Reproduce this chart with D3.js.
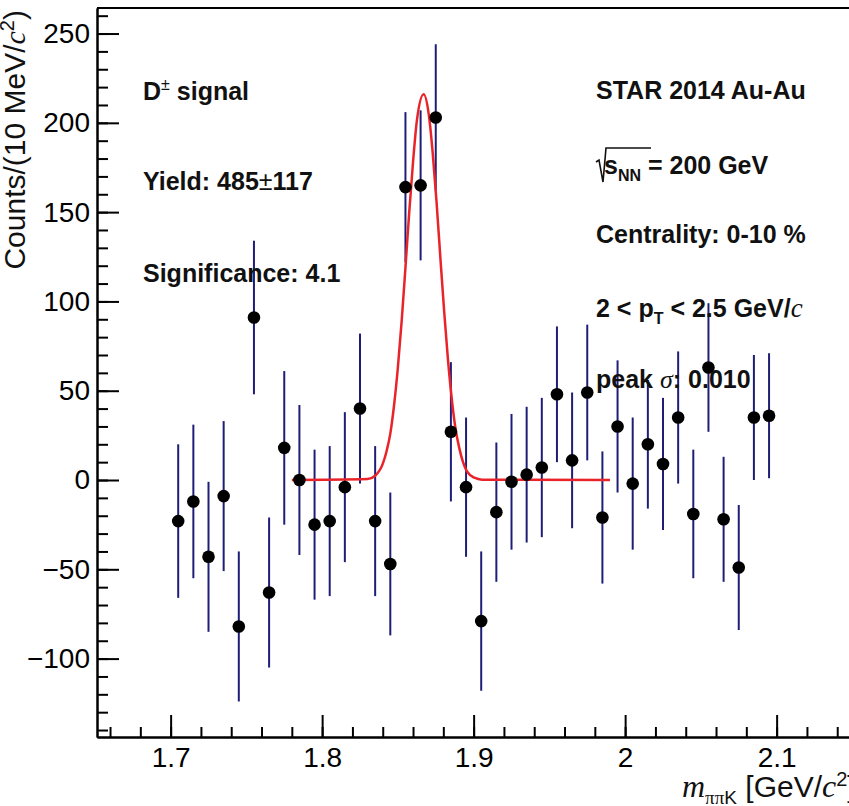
<!DOCTYPE html>
<html lang="en">
<head>
<meta charset="utf-8">
<title>D± signal</title>
<script src="https://d3js.org/d3.v7.min.js"></script>
<style>
    body { margin: 0; background: #fff; }
    svg { display: block; }
    .axis path, .axis line { stroke: #000; stroke-width: 2; fill: none; }
    .axis text { font-family: "Liberation Sans", Arial, sans-serif; font-size: 28px; fill: #000; }
    .note { font-family: "Liberation Sans", Arial, sans-serif; font-size: 25px; font-weight: bold; fill: #111; }
    .title { font-family: "Liberation Sans", Arial, sans-serif; font-size: 30px; fill: #111; }
    .it { font-family: "Liberation Serif", "Times New Roman", serif; font-style: italic; font-weight: normal; }
</style>
</head>
<body>
<script>
// histogram bins (bin centres, GeV/c^2)
var massBins = [1.705, 1.715, 1.725, 1.735, 1.745, 1.755, 1.765, 1.775, 1.785, 1.795,
                1.805, 1.815, 1.825, 1.835, 1.845, 1.855, 1.865, 1.875, 1.885, 1.895,
                1.905, 1.915, 1.925, 1.935, 1.945, 1.955, 1.965, 1.975, 1.985, 1.995,
                2.005, 2.015, 2.025, 2.035, 2.045, 2.055, 2.065, 2.075, 2.085, 2.095];
// counts per 10 MeV
var counts = [-23, -12, -43, -9, -82, 91, -63, 18, 0, -25,
              -23, -4, 40, -23, -47, 164, 165, 203, 27, -4,
              -79, -18, -1, 3, 7, 48, 11, 49, -21, 30,
              -2, 20, 9, 35, -19, 63, -22, -49, 35, 36];
// statistical errors
var errors = [43, 43, 42, 42, 42, 43, 42, 43, 42, 42,
              42, 42, 42, 42, 40, 42, 42, 41, 39, 39,
              39, 39, 38, 38, 39, 38, 38, 38, 37, 37,
              37, 36, 37, 37, 36, 36, 35, 35, 35, 35];

// fit curve
var fitMass = [1.78, 1.83, 1.835, 1.84, 1.8425, 1.845, 1.8475, 1.85, 1.8525, 1.855, 1.8575,
               1.86, 1.8625, 1.867, 1.8705, 1.873, 1.8755, 1.878, 1.8805, 1.883, 1.8855,
               1.888, 1.8905, 1.893, 1.8955, 1.9005, 1.9055, 1.99];
var fitCounts = [0, 0.5, 2.4, 9, 16, 26, 42, 63, 89, 119, 150,
                 178, 201, 216, 204, 183, 156, 125, 95, 68, 46,
                 29, 18, 10, 5, 1.3, 0.2, 0];

var xMajorTicks = [1.7, 1.8, 1.9, 2.0, 2.1];
var yMajorTicks = [-100, -50, 0, 50, 100, 150, 200, 250];

var W = 849, H = 806;
var plot = { left: 97, top: 8, bottom: 737 };

var svg = d3.select("body").append("svg")
    .attr("width", W)
    .attr("height", H);

// scales (the frame runs off the right edge of the picture)
var x = d3.scaleLinear()
    .domain([1.6514, 2.17])
    .range([plot.left, plot.left + (2.17 - 1.6514) * 1515]);
var y = d3.scaleLinear()
    .domain([-143.9, 264.3])
    .range([plot.bottom, plot.top]);

// top frame line
svg.append("line")
    .attr("x1", plot.left).attr("x2", W + 10)
    .attr("y1", plot.top).attr("y2", plot.top)
    .attr("stroke", "#000").attr("stroke-width", 2);

// minor ticks
svg.append("g")
    .attr("class", "axis")
    .attr("transform", "translate(" + plot.left + ",0)")
    .call(d3.axisLeft(y).tickValues(d3.range(-140, 261, 10)).tickSize(-11).tickSizeOuter(0).tickFormat(""));
svg.append("g")
    .attr("class", "axis")
    .attr("transform", "translate(0," + plot.bottom + ")")
    .call(d3.axisBottom(x).tickValues(d3.range(1.66, 2.17, 0.02)).tickSize(-10).tickSizeOuter(0).tickFormat(""));

// major ticks + labels
svg.append("g")
    .attr("class", "axis")
    .attr("transform", "translate(" + plot.left + ",0)")
    .call(d3.axisLeft(y).tickValues(yMajorTicks).tickSize(-22).tickSizeOuter(0).tickPadding(7));
svg.append("g")
    .attr("class", "axis")
    .attr("transform", "translate(0," + plot.bottom + ")")
    .call(d3.axisBottom(x).tickValues(xMajorTicks).tickSize(-22).tickSizeOuter(0).tickPadding(10)
        .tickFormat(d3.format("")));

// error bars
svg.append("g").selectAll("line")
    .data(massBins)
    .enter()
    .append("line")
    .attr("x1", function (d) { return x(d); })
    .attr("x2", function (d) { return x(d); })
    .attr("y1", function (d, i) { return y(counts[i] + errors[i]); })
    .attr("y2", function (d, i) { return y(counts[i] - errors[i]); })
    .attr("stroke", "#1e1e78")
    .attr("stroke-width", 2);

// fit
var line = d3.line()
    .x(function (d, i) { return x(d); })
    .y(function (d, i) { return y(fitCounts[i]); })
    .curve(d3.curveMonotoneX);
svg.append("path")
    .attr("d", line(fitMass))
    .attr("fill", "none")
    .attr("stroke", "#e8242a")
    .attr("stroke-width", 2.5);

// markers
svg.append("g").selectAll("circle")
    .data(massBins)
    .enter()
    .append("circle")
    .attr("cx", function (d) { return x(d); })
    .attr("cy", function (d, i) { return y(counts[i]); })
    .attr("r", 6.3)
    .attr("fill", "#000");

// y title
var yt = svg.append("text")
    .attr("class", "title")
    .attr("transform", "translate(25," + (plot.top + 2) + ") rotate(-90)")
    .attr("text-anchor", "end");
yt.append("tspan").text("Counts/(10 MeV/");
yt.append("tspan").attr("class", "it").text("c");
yt.append("tspan").attr("dy", -11).attr("font-size", 20).text("2");
yt.append("tspan").attr("dy", 11).text(")");

// x title
var xt = svg.append("text")
    .attr("class", "title")
    .attr("x", 682).attr("y", 797);
xt.append("tspan").attr("class", "it").attr("font-size", 32).text("m");
xt.append("tspan").attr("dy", 7).attr("font-size", 19)
    .attr("font-family", "Liberation Serif, serif").text("ππ");
xt.append("tspan").attr("font-size", 19).text("K");
xt.append("tspan").attr("dy", -7).text(" [GeV/");
xt.append("tspan").attr("class", "it").attr("font-size", 32).text("c");
xt.append("tspan").attr("dy", -11).attr("font-size", 20).text("2");
xt.append("tspan").attr("dy", 11).text("]");

// left notes
var t1 = svg.append("text").attr("class", "note").attr("x", 143).attr("y", 100);
t1.append("tspan").text("D");
t1.append("tspan").attr("dy", -10).attr("font-size", 16).attr("font-weight", "normal").text("±");
t1.append("tspan").attr("dy", 10).text(" signal");

var t2 = svg.append("text").attr("class", "note").attr("x", 143).attr("y", 190);
t2.append("tspan").text("Yield: 485");
t2.append("tspan").attr("font-weight", "normal").text("±");
t2.append("tspan").text("117");

svg.append("text").attr("class", "note").attr("x", 143).attr("y", 282).text("Significance: 4.1");

// right notes
svg.append("text").attr("class", "note").attr("x", 596).attr("y", 99).text("STAR 2014 Au-Au");

var r2 = svg.append("text").attr("class", "note").attr("x", 604).attr("y", 174);
r2.append("tspan").text("s");
r2.append("tspan").attr("dy", 7).attr("font-size", 16).text("NN");
r2.append("tspan").attr("dy", -7).text(" = 200 GeV");
svg.append("path")
    .attr("d", "M596,162 L599,160 L603,182 L606,148 L651,148")
    .attr("fill", "none")
    .attr("stroke", "#111")
    .attr("stroke-width", 1.6);

svg.append("text").attr("class", "note").attr("x", 596).attr("y", 243).text("Centrality: 0-10 %");

var r4 = svg.append("text").attr("class", "note").attr("x", 596).attr("y", 317);
r4.append("tspan").text("2 < p");
r4.append("tspan").attr("dy", 7).attr("font-size", 16).text("T");
r4.append("tspan").attr("dy", -7).text(" < 2.5 GeV/");
r4.append("tspan").attr("class", "it").attr("font-size", 27).text("c");

var r5 = svg.append("text").attr("class", "note").attr("x", 596).attr("y", 388);
r5.append("tspan").text("peak ");
r5.append("tspan").attr("class", "it").attr("font-size", 26).text("σ");
r5.append("tspan").text(": 0.010");
</script>
</body>
</html>
